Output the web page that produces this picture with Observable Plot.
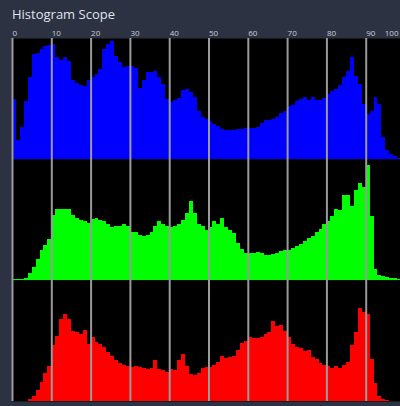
<!DOCTYPE html>
<html><head><meta charset="utf-8">
<script src="https://cdn.jsdelivr.net/npm/d3@7"></script>
<script src="https://cdn.jsdelivr.net/npm/@observablehq/plot@0.6"></script>
<style>
html,body{margin:0;padding:0;overflow:hidden;background:#2d3242;width:400px;height:406px}
#title{height:22px;box-sizing:border-box;padding:6px 0 0 12px;font:13px/16px "Open Sans",sans-serif;color:#dfe2ea;white-space:nowrap}
#chart svg{max-width:none !important;width:410px;height:384px}
</style></head><body>
<div id="title">Histogram Scope</div>
<div id="chart"></div>
<script>
const channels = ["B", "G", "R"];
const channelColors = ["#0000ff", "#00ff00", "#ff0000"];
const tickValues = [0, 10, 20, 30, 40, 50, 60, 70, 80, 90, 100];
const tickLabels = ["0", "10", "20", "30", "40", "50", "60", "70", "80", "90", "100"];

const blueValues = [
  50, 16, 26.5, 48, 67.5, 87, 88, 91, 93.5, 94,
  95, 84, 82, 84, 81, 65, 63, 61.5, 60.5, 65,
  67.5, 70, 74, 91, 95, 97.5, 85, 80, 76, 76.5,
  77, 75.5, 59, 65, 71.5, 71.5, 72.5, 67.5, 62, 50,
  47, 48.5, 50.5, 57, 58, 55, 51, 40, 35, 33,
  31.5, 29, 27, 25, 24, 24, 24, 24.5, 25, 26,
  26, 26, 26.5, 30, 32, 32.5, 33, 35, 38, 40,
  43.5, 45, 48, 50, 51.5, 49, 51, 48.5, 49, 50.5,
  54, 56.5, 58, 61.5, 67.5, 73, 84, 69, 62, 45.5,
  37.5, 40, 51, 45.5, 18.5, 7.5, 4.5, 2.5, 1, 0.5
];
const greenValues = [
  0.5, 0.5, 0.5, 1.5, 5.5, 11, 17, 25, 29, 34,
  54, 59, 58.5, 59, 58.5, 54, 51, 50, 48.5, 47.5,
  50.5, 51, 50, 49, 46.5, 44, 44.5, 44.5, 46, 45,
  40, 39.5, 37.5, 36.5, 37.5, 40, 45, 48.5, 46.5, 44.5,
  43.5, 45, 46.5, 50, 55, 65, 55, 46.5, 45, 41,
  44, 48.5, 46.5, 51, 44, 41.5, 39, 30.5, 26, 22.5,
  22, 22, 23, 22, 21, 21, 21.5, 22.5, 24, 25,
  25, 26.5, 28, 30, 32, 34.5, 36, 39.5, 42, 46,
  49, 52.5, 58.5, 58, 70.5, 70.5, 61, 74.5, 80, 77,
  95, 52.5, 9, 4.5, 3.5, 2.5, 2, 1.5, 1, 0.5
];
const redValues = [
  0, 0, 0, 0, 2, 4, 9.5, 15.5, 23.5, 29,
  46, 54, 68, 72, 68, 57.5, 57, 55.5, 59, 47,
  53, 48.5, 47, 44.5, 40.5, 37, 33.5, 31, 29.5, 29,
  28, 29, 28, 27, 26.5, 27.5, 33.5, 26.5, 25.5, 24,
  26.5, 26, 33.5, 39, 29, 22, 21.5, 23.5, 27.5, 28,
  28, 30, 32.5, 37, 35.5, 36, 37, 42, 48, 50,
  52.5, 52, 52, 52.5, 55, 57, 66.5, 62, 62.5, 58,
  53, 47, 45, 44, 41, 42, 36, 34.5, 31.5, 30,
  29, 27, 29, 27, 30, 32.5, 46.5, 57, 76.5, 73.5,
  72, 35, 14.5, 4.5, 2, 0.5, 0, 0, 0, 0
];

const series = [blueValues, greenValues, redValues];
const rows = channels.flatMap((ch, k) =>
  series[k].map((v, i) => ({ch, color: channelColors[k], x1: i, x2: i + 1, v}))
);
const fmt = d => tickLabels[tickValues.indexOf(d)];

const chart = Plot.plot({
  width: 410,
  height: 384,
  marginLeft: 12,
  marginRight: 5,
  marginTop: 15,
  marginBottom: 4,
  style: {background: "transparent", color: "#c9cdd8", fontFamily: "Open Sans", fontSize: "8px", maxWidth: "none"},
  x: {domain: [0, 100], axis: null},
  y: {domain: [0, 100], axis: null},
  fy: {domain: channels, axis: null, padding: 0},
  marks: [
    Plot.frame({fill: "black", stroke: "none"}),
    Plot.rectY(rows, {x1: "x1", x2: "x2", y: "v", fy: "ch", fill: d => d.color, inset: 0, shapeRendering: "crispEdges"}),
    Plot.gridX(tickValues, {stroke: "#9a9a9a", strokeOpacity: 1, strokeWidth: 2}),
    Plot.axisX(tickValues.slice(0, -1), {anchor: "top", tickSize: 0, tickPadding: 3, textAnchor: "start", tickFormat: fmt}),
    Plot.axisX(tickValues.slice(-1), {anchor: "top", tickSize: 0, tickPadding: 3, textAnchor: "end", dx: -7, tickFormat: fmt})
  ]
});
document.getElementById("chart").appendChild(chart);
</script>
</body></html>
